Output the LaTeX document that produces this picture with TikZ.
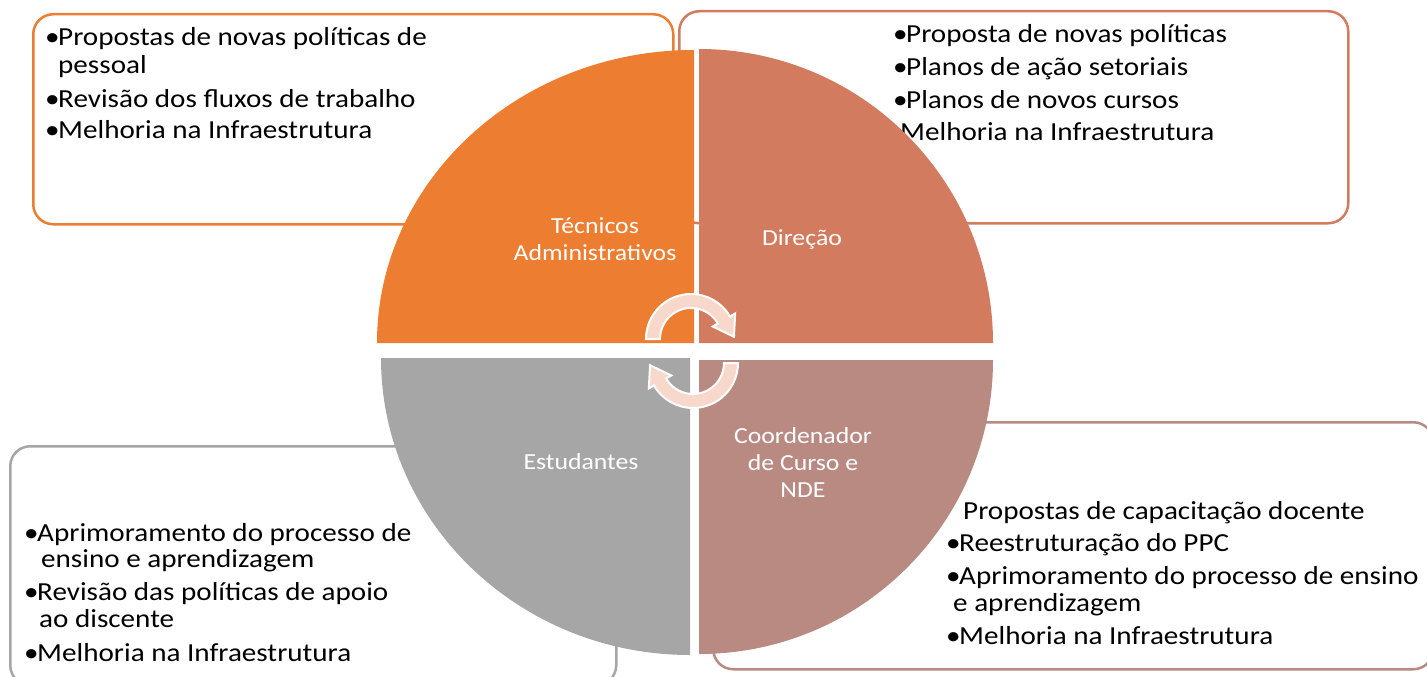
\documentclass[tikz,border=0pt]{standalone}
\usepackage{fontspec}
\setmainfont[FakeStretch=1.12]{Carlito}
\usetikzlibrary{calc}
\definecolor{cOrange}{RGB}{237,125,49}
\definecolor{cDir}{RGB}{210,123,94}
\definecolor{cCoord}{RGB}{185,138,130}
\definecolor{cGray}{RGB}{166,166,166}
\definecolor{cArrow}{RGB}{248,216,203}
\newcommand{\bul}{\makebox[13pt][l]{•}}
\begin{document}
\begin{tikzpicture}[x=1pt,y=-1pt,
  box/.style={line width=2.5pt, rounded corners=20pt, anchor=north west, inner sep=0pt, fill=none},
  item/.style={anchor=base west, inner sep=0pt, font=\fontsize{26}{28}\selectfont, text=black},
  qlabel/.style={text=white, align=center, font=\fontsize{23}{27}\selectfont, inner sep=0pt},
  cyc/.style={fill=cArrow, draw=white, line width=2pt, line join=miter}
]
\useasboundingbox (0,0) rectangle (1427,677);
% boxes
\node[box, draw=cOrange, minimum width=640pt, minimum height=210pt] (bTL) at (32,13) {};
\node[box, draw=cDir, minimum width=669pt, minimum height=212pt] (bTR) at (678,10) {};
\node[box, draw=cGray, minimum width=606pt, minimum height=239pt] (bBL) at (9,445) {};
\node[box, draw=cCoord, minimum width=720pt, minimum height=247pt] (bBR) at (712,421) {};
% box texts
\node[item] (tl1) at (45,46) {\bul Propostas de novas políticas de};
\node[item] (tl2) at (58,74) {pessoal};
\node[item] (tl3) at (45,107) {\bul Revisão dos fluxos de trabalho};
\node[item] (tl4) at (45,138) {\bul Melhoria na Infraestrutura};
\node[item] (tr1) at (893,43) {\bul Proposta de novas políticas};
\node[item] (tr2) at (893,75) {\bul Planos de ação setoriais};
\node[item] (tr3) at (893,108) {\bul Planos de novos cursos};
\node[item] (tr4) at (900,140) {Melhoria na Infraestrutura};
\node[item] (bl1) at (24,541) {\bul Aprimoramento do processo de};
\node[item] (bl2) at (41,567) {ensino e aprendizagem};
\node[item] (bl3) at (24,600) {\bul Revisão das políticas de apoio};
\node[item] (bl4) at (39,627) {ao discente};
\node[item] (bl5) at (24,661) {\bul Melhoria na Infraestrutura};
\node[item] (br1) at (963,519) {Propostas de capacitação docente};
\node[item] (br2) at (946,551) {\bul Reestruturação do PPC};
\node[item] (br3) at (946,584) {\bul Aprimoramento do processo de ensino};
\node[item] (br4) at (953,611) {e aprendizagem};
\node[item] (br5) at (946,644) {\bul Melhoria na Infraestrutura};
% quadrants
\fill[cOrange] (694,343) -- (377,343) arc[start angle=180, end angle=270, x radius=317, y radius=293] -- cycle;
\fill[cDir] (699,343) -- (699,49) arc[start angle=270, end angle=360, radius=294] -- cycle;
\fill[cCoord] (699,360) -- (993,360) arc[start angle=0, end angle=90, radius=294] -- cycle;
\fill[cGray] (690,358) -- (690,655) arc[start angle=90, end angle=180, x radius=309, y radius=297] -- cycle;
% cycle arrows
\coordinate (ca) at (691,339);
\coordinate (cb) at (693,363);
\filldraw[cyc] ($(ca)+(180:45)$) arc[start angle=180, end angle=330, radius=45]
  -- ($(ca)+(330:51)$) -- ($(ca)+(357:43)$) -- ($(ca)+(330:25)$) -- ($(ca)+(330:31)$)
  arc[start angle=330, end angle=180, radius=31] -- cycle;
\filldraw[cyc] ($(cb)+(0:45)$) arc[start angle=0, end angle=150, radius=45]
  -- ($(cb)+(150:51)$) -- ($(cb)+(177:43)$) -- ($(cb)+(150:25)$) -- ($(cb)+(150:31)$)
  arc[start angle=150, end angle=0, radius=31] -- cycle;
% labels
\node[qlabel] (lTec) at (595,239) {Técnicos\\Administrativos};
\node[qlabel] (lDir) at (802,240) {Direção};
\node[qlabel] (lEst) at (581,462) {Estudantes};
\node[qlabel] (lCoo) at (803,463) {Coordenador\\de Curso e\\NDE};
\end{tikzpicture}
\end{document}
